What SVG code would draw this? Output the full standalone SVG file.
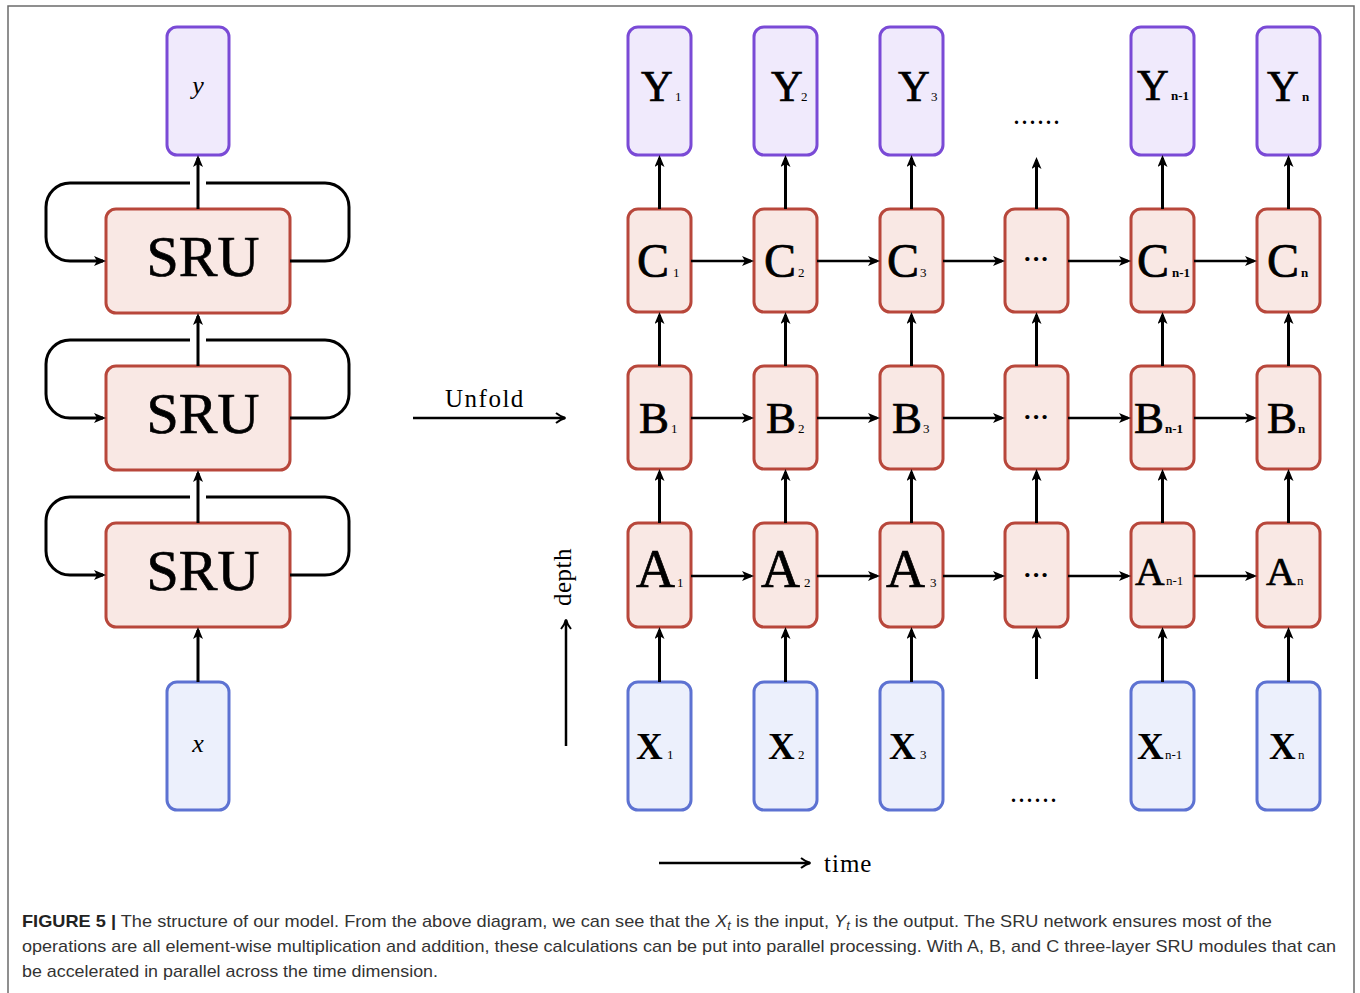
<svg xmlns="http://www.w3.org/2000/svg" width="1360" height="993" viewBox="0 0 1360 993">
<style>
.red{fill:#f9e8e4;stroke:#b8473b;stroke-width:3}
.pur{fill:#f0eafc;stroke:#7a4ad6;stroke-width:3}
.blu{fill:#ecf0fc;stroke:#5d72d2;stroke-width:3}
.ln{stroke:#000;stroke-width:3;fill:none}
.thin{stroke:#000;stroke-width:2.5;fill:none}
.serif{font-family:"Liberation Serif","DejaVu Serif",serif;fill:#000}
.big{stroke:#000;stroke-width:0.7}
.sub{font-size:13px;stroke:none}
.cap{font-family:"Liberation Sans","Noto Sans",sans-serif;font-size:17px;fill:#333}
</style>
<defs>
<marker id="ah" viewBox="0 0 12 10" refX="9" refY="5" markerWidth="12" markerHeight="10" markerUnits="userSpaceOnUse" orient="auto">
<path d="M0,0 L12,5 L0,10 L3,5 Z" fill="#000"/>
</marker>
<marker id="to" viewBox="0 0 12 12" refX="10" refY="6" markerWidth="12" markerHeight="12" markerUnits="userSpaceOnUse" orient="auto">
<path d="M1,1 Q6,5 10.5,6 Q6,7 1,11" fill="none" stroke="#000" stroke-width="2"/>
</marker>
</defs>
<rect width="1360" height="993" fill="#fff"/>
<path d="M8,1000 V6 H1354 V1000" fill="none" stroke="#6b6b6b" stroke-width="1.5"/>

<!-- Left folded model -->
<g id="node-y"><rect class="pur" x="167" y="27" width="62" height="128" rx="10"/><text class="serif" x="198" y="94" font-size="26" font-style="italic" text-anchor="middle">y</text></g>
<g id="node-sru1"><rect class="red" x="106" y="209" width="184" height="104" rx="10"/><text class="serif big" x="203" y="276" font-size="58" text-anchor="middle">SRU</text></g>
<g id="node-sru2"><rect class="red" x="106" y="366" width="184" height="104" rx="10"/><text class="serif big" x="203" y="433" font-size="58" text-anchor="middle">SRU</text></g>
<g id="node-sru3"><rect class="red" x="106" y="523" width="184" height="104" rx="10"/><text class="serif big" x="203" y="590" font-size="58" text-anchor="middle">SRU</text></g>
<g id="node-x"><rect class="blu" x="167" y="682" width="62" height="128" rx="10"/><text class="serif" x="198" y="752" font-size="26" font-style="italic" text-anchor="middle">x</text></g>

<!-- Right unfolded grid -->
<g id="node-Y1"><rect class="pur" x="628" y="27" width="63" height="128" rx="10"/><text class="serif big" y="101"><tspan x="641" font-size="44">Y</tspan><tspan class="sub" x="675" font-size="12">1</tspan></text></g>
<g id="node-Y2"><rect class="pur" x="754" y="27" width="63" height="128" rx="10"/><text class="serif big" y="101"><tspan x="771" font-size="44">Y</tspan><tspan class="sub" x="801" font-size="12">2</tspan></text></g>
<g id="node-Y3"><rect class="pur" x="880" y="27" width="63" height="128" rx="10"/><text class="serif big" y="101"><tspan x="898" font-size="44">Y</tspan><tspan class="sub" x="931" font-size="12">3</tspan></text></g>
<g id="node-Yn1"><rect class="pur" x="1131" y="27" width="63" height="128" rx="10"/><text class="serif big" y="100"><tspan x="1137" font-size="44">Y</tspan><tspan class="sub" x="1171" font-size="13" font-weight="bold">n-1</tspan></text></g>
<g id="node-Yn"><rect class="pur" x="1257" y="27" width="63" height="128" rx="10"/><text class="serif big" y="101"><tspan x="1267" font-size="44">Y</tspan><tspan class="sub" x="1302" font-size="13" font-weight="bold">n</tspan></text></g>
<text class="serif" x="1038" y="124" font-size="20" font-weight="bold" text-anchor="middle" letter-spacing="3">......</text>

<g id="node-C1"><rect class="red" x="628" y="209" width="63" height="103" rx="10"/><text class="serif big" y="277"><tspan x="637" font-size="48">C</tspan><tspan class="sub" x="673">1</tspan></text></g>
<g id="node-C2"><rect class="red" x="754" y="209" width="63" height="103" rx="10"/><text class="serif big" y="277"><tspan x="764" font-size="48">C</tspan><tspan class="sub" x="798">2</tspan></text></g>
<g id="node-C3"><rect class="red" x="880" y="209" width="63" height="103" rx="10"/><text class="serif big" y="277"><tspan x="887" font-size="48">C</tspan><tspan class="sub" x="920">3</tspan></text></g>
<g id="node-Cdots"><rect class="red" x="1005" y="209" width="63" height="103" rx="10"/><text class="serif" x="1036" y="267" font-size="26" font-weight="bold" text-anchor="middle">···</text></g>
<g id="node-Cn1"><rect class="red" x="1131" y="209" width="63" height="103" rx="10"/><text class="serif big" y="277"><tspan x="1137" font-size="48">C</tspan><tspan class="sub" x="1172" font-weight="bold">n-1</tspan></text></g>
<g id="node-Cn"><rect class="red" x="1257" y="209" width="63" height="103" rx="10"/><text class="serif big" y="277"><tspan x="1267" font-size="48">C</tspan><tspan class="sub" x="1301" font-weight="bold">n</tspan></text></g>

<g id="node-B1"><rect class="red" x="628" y="366" width="63" height="103" rx="10"/><text class="serif big" y="433"><tspan x="639" font-size="45">B</tspan><tspan class="sub" x="671">1</tspan></text></g>
<g id="node-B2"><rect class="red" x="754" y="366" width="63" height="103" rx="10"/><text class="serif big" y="433"><tspan x="766" font-size="45">B</tspan><tspan class="sub" x="798">2</tspan></text></g>
<g id="node-B3"><rect class="red" x="880" y="366" width="63" height="103" rx="10"/><text class="serif big" y="433"><tspan x="892" font-size="45">B</tspan><tspan class="sub" x="923">3</tspan></text></g>
<g id="node-Bdots"><rect class="red" x="1005" y="366" width="63" height="103" rx="10"/><text class="serif" x="1036" y="425" font-size="26" font-weight="bold" text-anchor="middle">···</text></g>
<g id="node-Bn1"><rect class="red" x="1131" y="366" width="63" height="103" rx="10"/><text class="serif big" y="433"><tspan x="1134" font-size="45">B</tspan><tspan class="sub" x="1165" font-weight="bold">n-1</tspan></text></g>
<g id="node-Bn"><rect class="red" x="1257" y="366" width="63" height="103" rx="10"/><text class="serif big" y="433"><tspan x="1267" font-size="45">B</tspan><tspan class="sub" x="1298" font-weight="bold">n</tspan></text></g>

<g id="node-A1"><rect class="red" x="628" y="523" width="63" height="104" rx="10"/><text class="serif big" y="587"><tspan x="636" font-size="54">A</tspan><tspan class="sub" x="677">1</tspan></text></g>
<g id="node-A2"><rect class="red" x="754" y="523" width="63" height="104" rx="10"/><text class="serif big" y="587"><tspan x="761" font-size="54">A</tspan><tspan class="sub" x="804">2</tspan></text></g>
<g id="node-A3"><rect class="red" x="880" y="523" width="63" height="104" rx="10"/><text class="serif big" y="587"><tspan x="886" font-size="54">A</tspan><tspan class="sub" x="930">3</tspan></text></g>
<g id="node-Adots"><rect class="red" x="1005" y="523" width="63" height="104" rx="10"/><text class="serif" x="1036" y="583" font-size="26" font-weight="bold" text-anchor="middle">···</text></g>
<g id="node-An1"><rect class="red" x="1131" y="523" width="63" height="104" rx="10"/><text class="serif big" y="585"><tspan x="1135" font-size="41">A</tspan><tspan class="sub" x="1166">n-1</tspan></text></g>
<g id="node-An"><rect class="red" x="1257" y="523" width="63" height="104" rx="10"/><text class="serif big" y="585"><tspan x="1266" font-size="41">A</tspan><tspan class="sub" x="1297">n</tspan></text></g>

<g id="node-X1"><rect class="blu" x="628" y="682" width="63" height="128" rx="10"/><text class="serif" y="759" font-weight="bold"><tspan x="636" font-size="37">X</tspan><tspan class="sub" x="667" font-weight="normal">1</tspan></text></g>
<g id="node-X2"><rect class="blu" x="754" y="682" width="63" height="128" rx="10"/><text class="serif" y="759" font-weight="bold"><tspan x="768" font-size="37">X</tspan><tspan class="sub" x="798" font-weight="normal">2</tspan></text></g>
<g id="node-X3"><rect class="blu" x="880" y="682" width="63" height="128" rx="10"/><text class="serif" y="759" font-weight="bold"><tspan x="889" font-size="37">X</tspan><tspan class="sub" x="920" font-weight="normal">3</tspan></text></g>
<g id="node-Xn1"><rect class="blu" x="1131" y="682" width="63" height="128" rx="10"/><text class="serif" y="759" font-weight="bold"><tspan x="1137" font-size="37">X</tspan><tspan class="sub" x="1165" font-weight="normal">n-1</tspan></text></g>
<g id="node-Xn"><rect class="blu" x="1257" y="682" width="63" height="128" rx="10"/><text class="serif" y="759" font-weight="bold"><tspan x="1269" font-size="37">X</tspan><tspan class="sub" x="1298" font-weight="normal">n</tspan></text></g>
<text class="serif" x="1035" y="802" font-size="20" font-weight="bold" text-anchor="middle" letter-spacing="3">......</text>

<!-- Labels -->
<text class="serif" x="445" y="407" font-size="25" letter-spacing="1.5">Unfold</text>
<text class="serif" transform="translate(571,606) rotate(-90)" font-size="25" letter-spacing="0.5">depth</text>
<text class="serif" x="824" y="872" font-size="25" letter-spacing="1">time</text>

<g id="connectors">
<!-- left model -->
<path class="ln" d="M198,209 V158" marker-end="url(#ah)"/>
<path class="ln" d="M198,366 V316" marker-end="url(#ah)"/>
<path class="ln" d="M198,523 V473" marker-end="url(#ah)"/>
<path class="ln" d="M198,682 V630" marker-end="url(#ah)"/>
<path class="ln" d="M290,261 H325 A24,24 0 0 0 349,237 V207 A24,24 0 0 0 325,183 H206"/>
<path class="ln" d="M190,183 H70 A24,24 0 0 0 46,207 V237 A24,24 0 0 0 70,261 H103" marker-end="url(#ah)"/>
<path class="ln" d="M290,418 H325 A24,24 0 0 0 349,394 V364 A24,24 0 0 0 325,340 H206"/>
<path class="ln" d="M190,340 H70 A24,24 0 0 0 46,364 V394 A24,24 0 0 0 70,418 H103" marker-end="url(#ah)"/>
<path class="ln" d="M290,575 H325 A24,24 0 0 0 349,551 V521 A24,24 0 0 0 325,497 H206"/>
<path class="ln" d="M190,497 H70 A24,24 0 0 0 46,521 V551 A24,24 0 0 0 70,575 H103" marker-end="url(#ah)"/>
<!-- unfold, depth, time -->
<path class="thin" d="M413,418 H565" marker-end="url(#to)"/>
<path class="thin" d="M566,746 V620" marker-end="url(#to)"/>
<path class="thin" d="M659,863 H810" marker-end="url(#to)"/>
<!-- vertical grid arrows -->
<path class="ln" d="M659.5,209 V158" marker-end="url(#ah)"/>
<path class="ln" d="M659.5,366 V315" marker-end="url(#ah)"/>
<path class="ln" d="M659.5,523 V472" marker-end="url(#ah)"/>
<path class="ln" d="M659.5,682 V630" marker-end="url(#ah)"/>
<path class="ln" d="M785.5,209 V158" marker-end="url(#ah)"/>
<path class="ln" d="M785.5,366 V315" marker-end="url(#ah)"/>
<path class="ln" d="M785.5,523 V472" marker-end="url(#ah)"/>
<path class="ln" d="M785.5,682 V630" marker-end="url(#ah)"/>
<path class="ln" d="M911.5,209 V158" marker-end="url(#ah)"/>
<path class="ln" d="M911.5,366 V315" marker-end="url(#ah)"/>
<path class="ln" d="M911.5,523 V472" marker-end="url(#ah)"/>
<path class="ln" d="M911.5,682 V630" marker-end="url(#ah)"/>
<path class="ln" d="M1036.5,209 V160" marker-end="url(#ah)"/>
<path class="ln" d="M1036.5,366 V315" marker-end="url(#ah)"/>
<path class="ln" d="M1036.5,523 V472" marker-end="url(#ah)"/>
<path class="ln" d="M1036.5,679 V630" marker-end="url(#ah)"/>
<path class="ln" d="M1162.5,209 V158" marker-end="url(#ah)"/>
<path class="ln" d="M1162.5,366 V315" marker-end="url(#ah)"/>
<path class="ln" d="M1162.5,523 V472" marker-end="url(#ah)"/>
<path class="ln" d="M1162.5,682 V630" marker-end="url(#ah)"/>
<path class="ln" d="M1288.5,209 V158" marker-end="url(#ah)"/>
<path class="ln" d="M1288.5,366 V315" marker-end="url(#ah)"/>
<path class="ln" d="M1288.5,523 V472" marker-end="url(#ah)"/>
<path class="ln" d="M1288.5,682 V630" marker-end="url(#ah)"/>
<!-- horizontal grid arrows -->
<path class="thin" d="M691,261 H751" marker-end="url(#ah)"/>
<path class="thin" d="M817,261 H877" marker-end="url(#ah)"/>
<path class="thin" d="M943,261 H1002" marker-end="url(#ah)"/>
<path class="thin" d="M1068,261 H1128" marker-end="url(#ah)"/>
<path class="thin" d="M1194,261 H1254" marker-end="url(#ah)"/>
<path class="thin" d="M691,418 H751" marker-end="url(#ah)"/>
<path class="thin" d="M817,418 H877" marker-end="url(#ah)"/>
<path class="thin" d="M943,418 H1002" marker-end="url(#ah)"/>
<path class="thin" d="M1068,418 H1128" marker-end="url(#ah)"/>
<path class="thin" d="M1194,418 H1254" marker-end="url(#ah)"/>
<path class="thin" d="M691,576 H751" marker-end="url(#ah)"/>
<path class="thin" d="M817,576 H877" marker-end="url(#ah)"/>
<path class="thin" d="M943,576 H1002" marker-end="url(#ah)"/>
<path class="thin" d="M1068,576 H1128" marker-end="url(#ah)"/>
<path class="thin" d="M1194,576 H1254" marker-end="url(#ah)"/>
</g>

<!-- Caption -->
<text class="cap" x="22" y="927" textLength="1250" lengthAdjust="spacingAndGlyphs"><tspan font-weight="bold" fill="#222">FIGURE 5 |</tspan> The structure of our model. From the above diagram, we can see that the <tspan font-style="italic">X</tspan><tspan font-style="italic" font-size="12" dy="3">t</tspan><tspan dy="-3"> is the input, </tspan><tspan font-style="italic">Y</tspan><tspan font-style="italic" font-size="12" dy="3">t</tspan><tspan dy="-3"> is the output. The SRU network ensures most of the</tspan></text>
<text class="cap" x="22" y="952" textLength="1314" lengthAdjust="spacingAndGlyphs">operations are all element-wise multiplication and addition, these calculations can be put into parallel processing. With A, B, and C three-layer SRU modules that can</text>
<text class="cap" x="22" y="977" textLength="416" lengthAdjust="spacingAndGlyphs">be accelerated in parallel across the time dimension.</text>
</svg>
